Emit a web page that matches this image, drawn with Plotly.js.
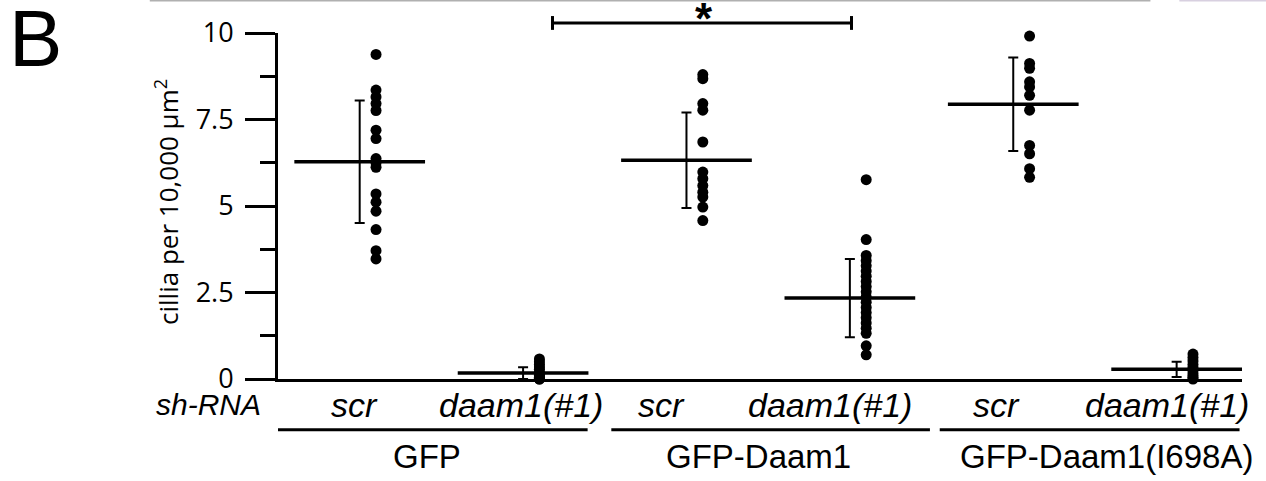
<!DOCTYPE html>
<html>
<head>
<meta charset="utf-8">
<script src="https://cdn.plot.ly/plotly-3.0.1.min.js"></script>
<style>html,body{margin:0;padding:0;background:#fff;}#chart{width:1266px;height:481px;}</style>
</head>
<body>
<div id="chart"></div>
<script>
// ---- data ----
var shRNA = ["scr", "daam1(#1)", "scr", "daam1(#1)", "scr", "daam1(#1)"];
var constructs = ["GFP", "GFP-Daam1", "GFP-Daam1(I698A)"];
var gfpScr = [9.38, 8.35, 8.15, 7.96, 7.76, 7.19, 6.95, 6.37, 6.25, 6.12, 5.35, 5.11, 4.85, 4.32, 3.71, 3.47];
var gfpDaam = [0.58, 0.5, 0.42, 0.35, 0.28, 0.2, 0.15, 0.1, 0.05, 0.02, 0, 0];
var daamScr = [8.8, 8.68, 7.96, 7.77, 6.85, 5.98, 5.79, 5.59, 5.4, 5.26, 4.97, 4.58];
var daamDaam = [5.76, 4.03, 3.57, 3.42, 3.27, 3.12, 2.97, 2.82, 2.67, 2.52, 2.37, 2.22, 2.07, 1.92, 1.77, 1.62, 1.47, 1.32, 0.96, 0.7];
var mutScr = [9.91, 9.12, 8.98, 8.59, 8.44, 8.2, 7.77, 6.75, 6.51, 6.08, 5.83];
var mutDaam = [0.72, 0.62, 0.52, 0.42, 0.33, 0.25, 0.17, 0.1, 0.04, 0];
var means = [6.28, 0.17, 6.32, 2.34, 7.94, 0.28];
var sds = [1.77, 0.17, 1.38, 1.13, 1.35, 0.22];
var yTickVals = [0, 2.5, 5, 7.5, 10];
var yTickText = ["0", "2.5", "5", "7.5", "10"];

// ---- build traces ----
var groups = [gfpScr, gfpDaam, daamScr, daamDaam, mutScr, mutDaam];
var pos = [1, 2, 3, 4, 5, 6];
var dotOffset = 0.1, halfMean = 0.4;
var traces = [];
groups.forEach(function (vals, i) {
  traces.push({
    type: "scatter", mode: "markers", cliponaxis: false, hoverinfo: "y",
    x: vals.map(function () { return pos[i] + dotOffset; }), y: vals,
    marker: { color: "#000", size: 11, symbol: "circle" }, showlegend: false
  });
  traces.push({
    type: "scatter", mode: "lines", cliponaxis: false, hoverinfo: "skip",
    x: [pos[i] - halfMean, pos[i] + halfMean], y: [means[i], means[i]],
    line: { color: "#000", width: 3.5 }, showlegend: false
  });
  traces.push({
    type: "scatter", mode: "markers", cliponaxis: false, hoverinfo: "y",
    x: [pos[i]], y: [means[i]],
    marker: { color: "rgba(0,0,0,0)", size: 1 },
    error_y: { type: "data", array: [sds[i]], visible: true, color: "#000", thickness: 2, width: 5 },
    showlegend: false
  });
});

var labelX = [0.97, 1.99, 2.85, 3.88, 4.9, 5.94];
var groupX = [1.41, 3.44, 5.57];
var lineSpans = [[0.5, 2.395], [2.54, 4.49], [4.55, 6.385]];
var labFont = "Liberation Sans, Arial, sans-serif";

var annotations = [];
shRNA.forEach(function (t, i) {
  annotations.push({ text: t, x: labelX[i], xref: "x", xanchor: "center", y: -0.075, yref: "paper", yanchor: "middle",
    showarrow: false, font: { family: labFont, size: 34, color: "#000", style: "italic" } });
});
constructs.forEach(function (t, i) {
  annotations.push({ text: t, x: groupX[i], xref: "x", xanchor: "center", y: -0.225, yref: "paper", yanchor: "middle",
    showarrow: false, font: { family: labFont, size: 33, color: "#000" } });
});
annotations.push({ text: "sh-RNA", x: -0.072, xref: "paper", xanchor: "center", y: -0.075, yref: "paper", yanchor: "middle",
  showarrow: false, font: { family: labFont, size: 30, color: "#000", style: "italic" } });
annotations.push({ text: "B", x: -0.252, xref: "paper", xanchor: "center", y: 0.985, yref: "paper", yanchor: "middle",
  showarrow: false, font: { family: labFont, size: 80, color: "#000" } });
annotations.push({ text: "cillia per 10,000 µm<sup>2</sup>", x: -0.115, xref: "paper", y: 0.512, yref: "paper",
  textangle: -90, showarrow: false, xanchor: "center", yanchor: "middle",
  font: { family: "Open Sans, sans-serif", size: 26, color: "#000" } });
annotations.push({ text: "<b>*</b>", x: 3.105, xref: "x", xanchor: "center", y: 1.043, yref: "paper", yanchor: "middle",
  showarrow: false, font: { family: labFont, size: 44, color: "#000" } });

var shapes = [];
lineSpans.forEach(function (s) {
  shapes.push({ type: "line", xref: "x", yref: "paper", x0: s[0], x1: s[1], y0: -0.147, y1: -0.147,
    line: { color: "#000", width: 3 } });
});
// significance bracket
shapes.push({ type: "line", xref: "x", yref: "paper", x0: 2.18, x1: 4.01, y0: 1.029, y1: 1.029, line: { color: "#000", width: 3 } });
shapes.push({ type: "line", xref: "x", yref: "paper", x0: 2.18, x1: 2.18, y0: 1.009, y1: 1.049, line: { color: "#000", width: 3 } });
shapes.push({ type: "line", xref: "x", yref: "paper", x0: 4.01, x1: 4.01, y0: 1.009, y1: 1.049, line: { color: "#000", width: 3 } });
// remnants of the neighbouring panel at the top edge
shapes.push({ type: "line", xref: "paper", yref: "paper", x0: -0.133, x1: 0.905, y0: 1.094, y1: 1.094, line: { color: "#b0b0b0", width: 2 } });
shapes.push({ type: "line", xref: "paper", yref: "paper", x0: 0.935, x1: 1.03, y0: 1.094, y1: 1.094, line: { color: "#d8d0e0", width: 2 } });

var layout = {
  width: 1266, height: 481,
  margin: { l: 278, r: 24, t: 33, b: 102, pad: 0 },
  paper_bgcolor: "#fff", plot_bgcolor: "#fff",
  showlegend: false,
  xaxis: { range: [0.5, 6.4], showgrid: false, zeroline: false, showline: true, linecolor: "#000", linewidth: 3,
    showticklabels: false, ticks: "", fixedrange: true },
  yaxis: { range: [0, 10], showgrid: false, zeroline: false, showline: true, linecolor: "#000", linewidth: 3,
    tickmode: "array", tickvals: yTickVals, ticktext: yTickText, ticks: "outside", ticklen: 30, tickwidth: 3, tickcolor: "#000",
    ticklabelstandoff: 6,
    minor: { dtick: 1.25, tick0: 0, ticks: "outside", ticklen: 15, tickwidth: 3, tickcolor: "#000", showgrid: false },
    tickfont: { family: "Open Sans, sans-serif", size: 27, color: "#000" }, fixedrange: true },
  annotations: annotations,
  shapes: shapes
};

Plotly.newPlot("chart", traces, layout, { staticPlot: true, displayModeBar: false });
</script>
</body>
</html>
